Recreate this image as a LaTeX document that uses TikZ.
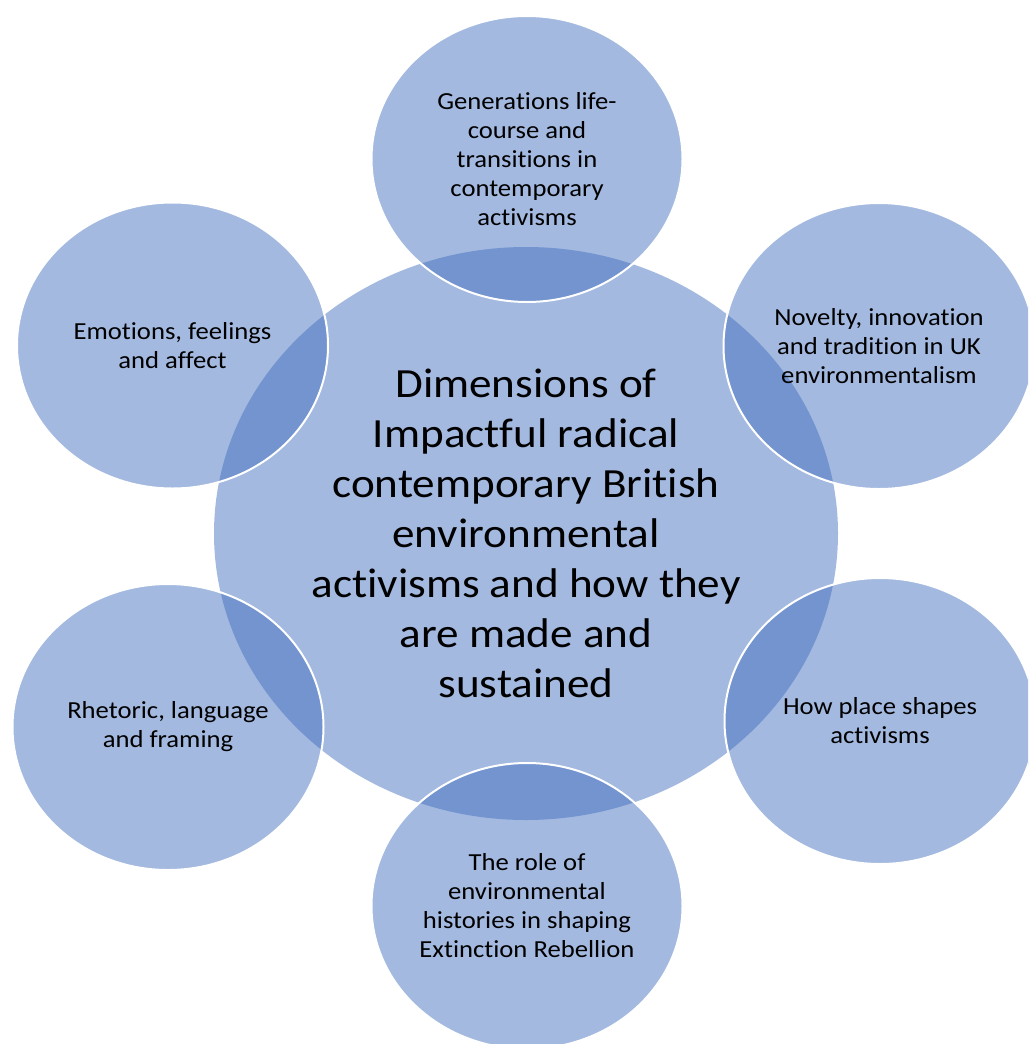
\documentclass[tikz,border=0pt]{standalone}
\usepackage{fontspec}
\setmainfont{Carlito}[Ligatures={NoCommon}, FakeStretch=1.088]
\usetikzlibrary{shapes.geometric}
\definecolor{lightblue}{RGB}{163,185,224}
\definecolor{satblue}{RGB}{63,109,190}
\tikzset{
  hub/.style={ellipse, fill=lightblue, inner sep=0pt, minimum width=624pt, minimum height=573pt, align=center,
    font=\fontsize{41.5pt}{50pt}\selectfont},
  sat/.style={ellipse, fill=satblue, fill opacity=0.478, text opacity=1, draw=white, line width=2pt,
    inner sep=0pt, minimum width=311pt, minimum height=286pt, align=center,
    font=\fontsize{24.5pt}{29pt}\selectfont}
}
\begin{document}
\begin{tikzpicture}[x=1pt,y=-1pt]
\useasboundingbox (0,0) rectangle (1028,1044);
\clip (0,0) rectangle (1028,1044);
\node[hub] (hub) at (526,533.5) {Dimensions of\\Impactful radical\\contemporary British\\environmental\\activisms and how they\\are made and\\sustained};
\node[sat] (top) at (527,159) {Generations life-\\course and\\transitions in\\contemporary\\activisms};
\node[sat] (tr) at (879,346) {Novelty, innovation\\and tradition in UK\\environmentalism};
\node[sat] (br) at (880,721) {How place shapes\\activisms};
\node[sat] (bot) at (527,906) {The role of\\environmental\\histories in shaping\\Extinction Rebellion};
\node[sat] (bl) at (168,727) {Rhetoric, language\\and framing};
\node[sat] (tl) at (172.5,345.5) {Emotions, feelings\\and affect};
\end{tikzpicture}
\end{document}
